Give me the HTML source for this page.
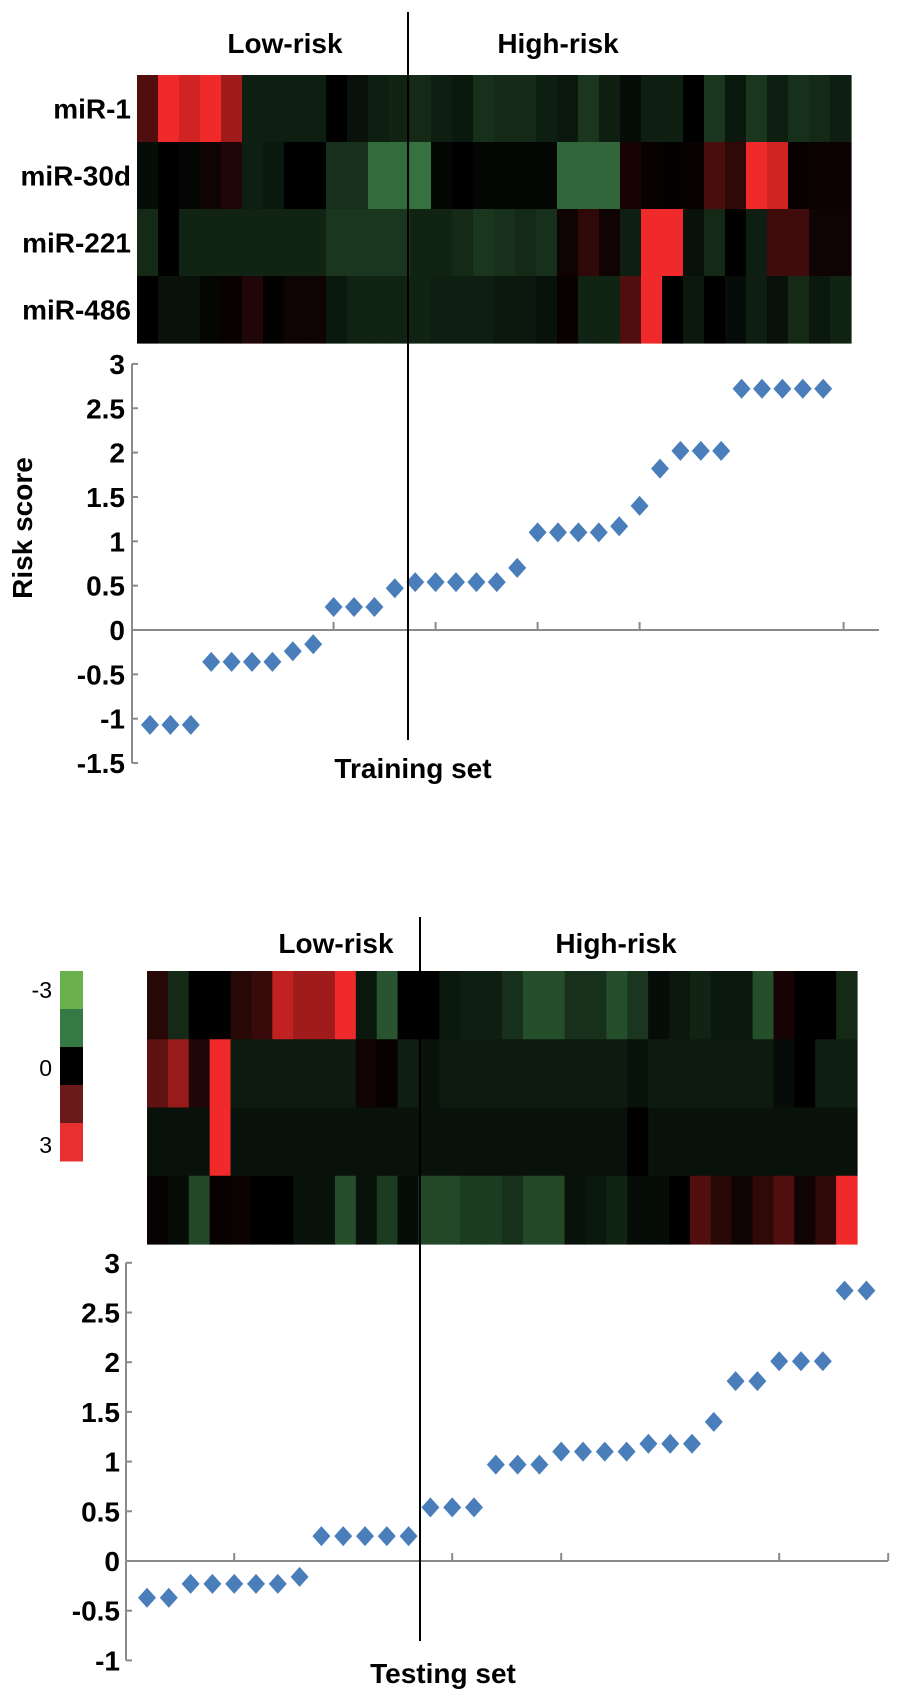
<!DOCTYPE html>
<html><head><meta charset="utf-8"><style>
html,body{margin:0;padding:0;background:#fff}
svg text{font-family:"Liberation Sans",Arial,sans-serif}
</style></head><body>
<svg id="fig" width="897" height="1701" viewBox="0 0 897 1701" xmlns="http://www.w3.org/2000/svg"></svg>
<script>
// ---------- data ----------
const geneNames = ["miR-1","miR-30d","miR-221","miR-486"];
const trainHeat = [
 [1.0,3,2.6,3,2.0,-0.5,-0.5,-0.5,-0.5,0,-0.3,-0.5,-0.6,-0.7,-0.5,-0.4,-0.8,-0.7,-0.7,-0.5,-0.4,-0.9,-0.5,-0.2,-0.5,-0.5,0,-0.9,-0.4,-0.9,-0.5,-0.8,-0.7,-0.5],
 [-0.2,0,-0.1,0.2,0.4,-0.5,-0.4,0,0,-0.8,-0.8,-1.8,-1.8,-1.9,-0.1,0,-0.1,-0.1,-0.1,-0.1,-1.7,-1.7,-1.7,0.3,0.1,0.05,0.1,0.9,0.6,3,2.6,0.1,0.15,0.15],
 [-0.7,0,-0.6,-0.6,-0.6,-0.6,-0.6,-0.6,-0.6,-0.9,-0.9,-0.9,-0.9,-0.6,-0.6,-0.7,-0.9,-0.8,-0.7,-0.8,0.2,0.6,0.2,-0.5,3,3,-0.3,-0.7,0,-0.5,0.8,0.8,0.2,0.2],
 [0,-0.3,-0.3,-0.1,0.1,0.4,0.05,0.2,0.2,-0.4,-0.6,-0.6,-0.6,-0.6,-0.5,-0.5,-0.5,-0.4,-0.4,-0.3,0.1,-0.6,-0.6,1.0,3,0,-0.4,0,-0.2,-0.5,-0.3,-0.7,-0.4,-0.6]
];
const testHeat = [
 [0.5,-0.7,0,0,0.5,0.7,2.4,2.0,2.0,3,-0.4,-1.4,0,0,-0.4,-0.5,-0.5,-0.8,-1.3,-1.3,-0.8,-0.8,-1.3,-0.9,-0.2,-0.4,-0.6,-0.4,-0.4,-1.3,0.3,0,0,-0.7],
 [1.2,1.9,0.4,3,-0.45,-0.45,-0.45,-0.45,-0.45,-0.45,0.2,0.1,-0.5,-0.3,-0.45,-0.45,-0.45,-0.45,-0.45,-0.45,-0.45,-0.45,-0.45,-0.3,-0.45,-0.45,-0.45,-0.45,-0.45,-0.45,-0.2,0,-0.5,-0.5],
 [-0.3,-0.3,-0.3,3,-0.3,-0.3,-0.3,-0.3,-0.3,-0.3,-0.3,-0.3,-0.3,-0.3,-0.3,-0.3,-0.3,-0.3,-0.3,-0.3,-0.3,-0.3,-0.3,0,-0.3,-0.3,-0.3,-0.3,-0.3,-0.3,-0.3,-0.3,-0.3,-0.3],
 [0.1,-0.2,-1.2,0.1,0.15,0,0,-0.3,-0.3,-1.3,-0.3,-1.0,-0.2,-1.2,-1.2,-1.0,-1.0,-0.8,-1.2,-1.2,-0.3,-0.4,-0.6,-0.2,-0.2,0,1.0,0.5,0.2,0.6,1.0,0.2,0.6,3]
];
const trainScores = [-1.07,-1.07,-1.07,-0.36,-0.36,-0.36,-0.36,-0.24,-0.16,0.26,0.26,0.26,0.47,0.54,0.54,0.54,0.54,0.54,0.70,1.10,1.10,1.10,1.10,1.17,1.40,1.82,2.02,2.02,2.02,2.72,2.72,2.72,2.72,2.72];
const testScores = [-0.37,-0.37,-0.23,-0.23,-0.23,-0.23,-0.23,-0.16,0.25,0.25,0.25,0.25,0.25,0.54,0.54,0.54,0.97,0.97,0.97,1.10,1.10,1.10,1.10,1.18,1.18,1.18,1.40,1.81,1.81,2.01,2.01,2.01,2.72,2.72];
const trainYTicks = [3,2.5,2,1.5,1,0.5,0,-0.5,-1,-1.5];
const trainYTickLabels = ["3","2.5","2","1.5","1","0.5","0","-0.5","-1","-1.5"];
const testYTicks = [3,2.5,2,1.5,1,0.5,0,-0.5,-1];
const testYTickLabels = ["3","2.5","2","1.5","1","0.5","0","-0.5","-1"];
const trainXTicks = [9,14,19,24,34];
const testXTicks = [4,14,19,29,34];
const legendValues = [-3,-1.5,0,1.5,3];
const legendLabels = ["-3","0","3"];

// ---------- helpers ----------
const NS="http://www.w3.org/2000/svg";
const svg=document.getElementById('fig');
function mk(tag,attrs,parent){const e=document.createElementNS(NS,tag);for(const k in attrs)e.setAttribute(k,attrs[k]);(parent||svg).appendChild(e);return e;}
function color(v){
  if(v<0){const t=Math.min(1,-v/3);return `rgb(${Math.round(85*t)},${Math.round(180*t)},${Math.round(100*t)})`;}
  const t=Math.min(1,v/3);return `rgb(${Math.round(240*t)},${Math.round(42*t)},${Math.round(42*t)})`;
}
function heatmap(data,x0,y0,w,h,name){
  const g=mk('g',{});
  
  
  const rows=data.length,cols=data[0].length,cw=w/cols,rh=h/rows;
  data.forEach((row,r)=>row.forEach((v,c)=>{
    const rc=mk('rect',{x:x0+c*cw,y:y0+r*rh,width:cw+0.6,height:rh+0.6,fill:color(v)},g);
    
    
  }));
}
function text(str,x,y,size,anchor,weight,name,extra){
  const t=mk('text',Object.assign({x:x,y:y,'font-size':size,'text-anchor':anchor,'font-weight':weight,fill:'#000'},extra||{}));
  t.textContent=str;
  
  
  return t;
}
function scatter(o){
  const xs=i=>o.px0+i*o.dx;
  const ys=v=>o.py0-v*o.unit;
  const ax=mk('g',{stroke:'#8a8a8a','stroke-width':2,fill:'none'});
  
  
  const yTop=ys(o.yTicks[0]),yBot=ys(o.yTicks[o.yTicks.length-1]);
  const yl=mk('line',{x1:o.ax,y1:yTop,x2:o.ax,y2:yBot},ax);
  
  
  const xl=mk('line',{x1:o.ax,y1:ys(0),x2:o.axEnd,y2:ys(0)},ax);
  
  
  o.yTicks.forEach((v,i)=>{
    const tk=mk('line',{x1:o.ax,y1:ys(v),x2:o.ax+6,y2:ys(v)},ax);
    
    
    text(o.yLabels[i],o.labelRight,ys(v)+10,28,'end','bold','y-tick-label');
  });
  o.xTicks.forEach(i=>{
    const tk=mk('line',{x1:xs(i),y1:ys(0),x2:xs(i),y2:ys(0)-8},ax);
    
    
  });
  const g=mk('g',{fill:'#4a7ebb'});
  
  
  o.scores.forEach((v,i)=>{
    const cx=xs(i),cy=ys(v);
    const p=mk('path',{d:`M${cx} ${cy-10} L${cx+9} ${cy} L${cx} ${cy+10} L${cx-9} ${cy} Z`},g);
    
    
    const c=mk('circle',{cx:cx,cy:cy,r:6.5},g);
    
    
  });
}

// ---------- top panel (training) ----------
heatmap(trainHeat,137,75,714,268,'training-heatmap');
geneNames.forEach((n,i)=>text(n,131,75+67*i+33.5+10,28,'end','bold','gene-label'));
text('Low-risk',285,53,28,'middle','bold','low-risk-label');
text('High-risk',558,53,28,'middle','bold','high-risk-label');
scatter({name:'training',scores:trainScores,px0:150,dx:20.4,py0:630,unit:88.7,ax:132,axEnd:879,
  yTicks:trainYTicks,yLabels:trainYTickLabels,xTicks:trainXTicks,labelRight:125});
text('Risk score',0,0,28,'middle','bold','y-axis-title',{transform:'translate(32,528) rotate(-90)'});
text('Training set',413,778,28,'middle','bold','x-axis-title-training');
const l1=mk('line',{x1:408,y1:12,x2:408,y2:740,stroke:'#000','stroke-width':2});



// ---------- bottom panel (testing) ----------
heatmap(testHeat,147,971,710,273,'testing-heatmap');
text('Low-risk',336,953,28,'middle','bold','low-risk-label');
text('High-risk',616,953,28,'middle','bold','high-risk-label');
scatter({name:'testing',scores:testScores,px0:147,dx:21.8,py0:1561,unit:99.4,ax:126,axEnd:888,
  yTicks:testYTicks,yLabels:testYTickLabels,xTicks:testXTicks,labelRight:120});
text('Testing set',443,1683,28,'middle','bold','x-axis-title-testing');
const l2=mk('line',{x1:420,y1:917,x2:420,y2:1641,stroke:'#000','stroke-width':2});



// ---------- color legend ----------
const lg=mk('g',{});


const legendFill=["#6ab04c","#357a45","#000000","#6b1a1a","#e83030"];
legendValues.forEach((v,i)=>{
  const r=mk('rect',{x:60,y:971+38*i,width:23,height:38.5,fill:legendFill[i]},lg);
  
  
});
text(legendLabels[0],52,998,23,'end','normal','legend-label');
text(legendLabels[1],52,1076,23,'end','normal','legend-label');
text(legendLabels[2],52,1153,23,'end','normal','legend-label');
</script>
</body></html>
